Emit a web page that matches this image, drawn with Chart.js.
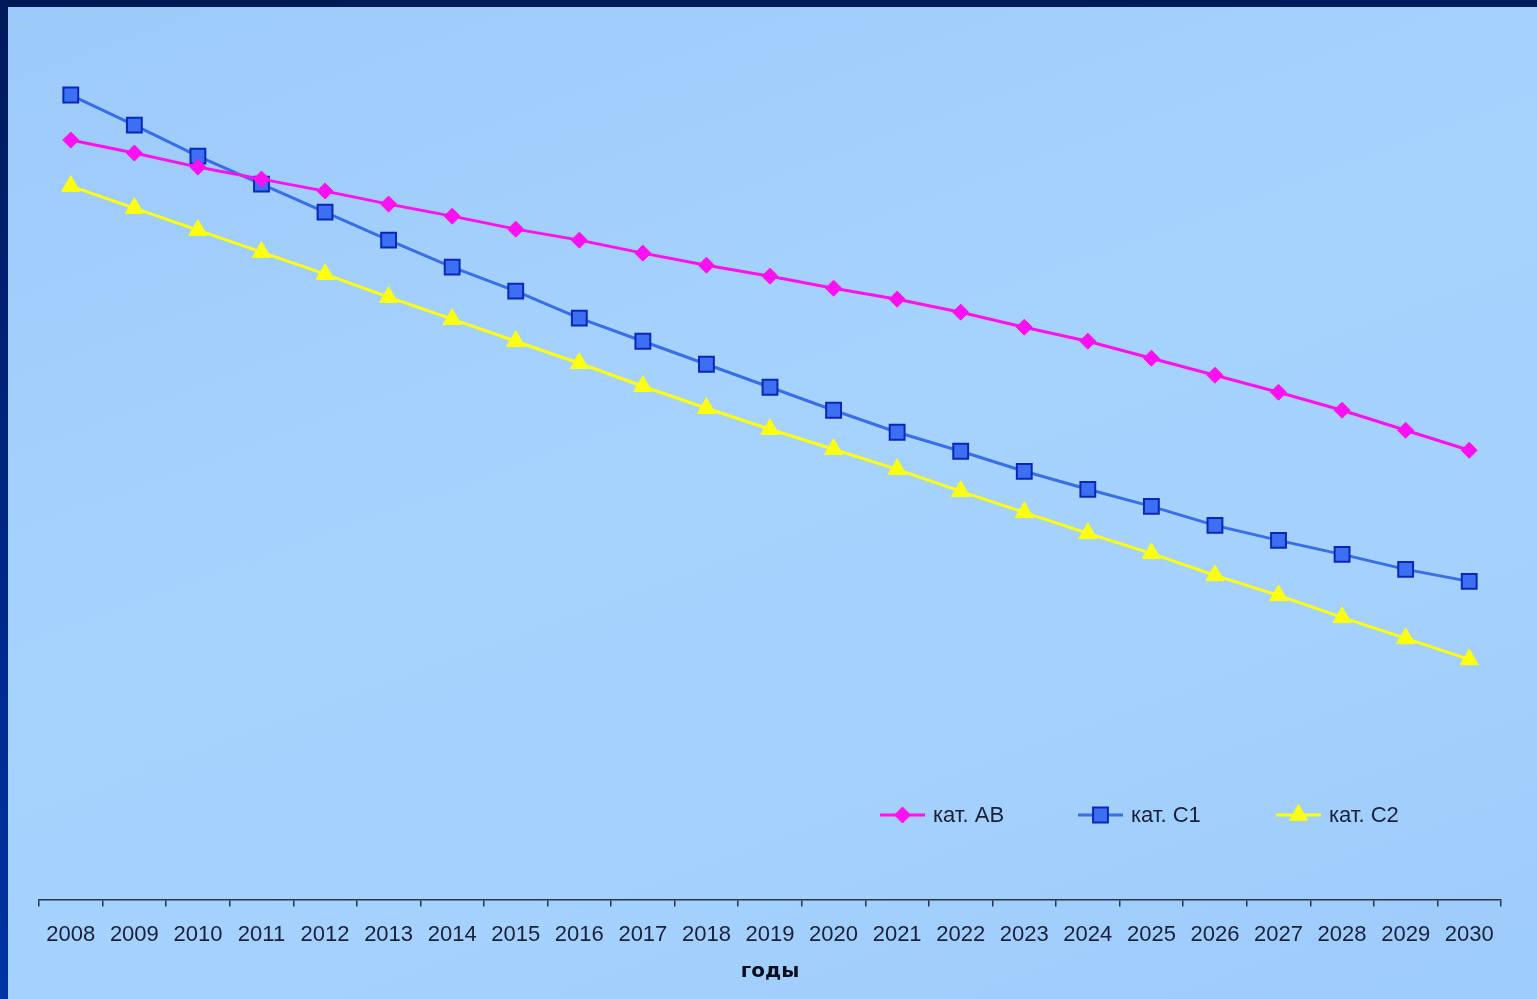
<!DOCTYPE html>
<html lang="ru">
<head>
<meta charset="utf-8">
<title>Прогноз по категориям</title>
<script src="https://cdn.jsdelivr.net/npm/chart.js@4/dist/chart.umd.min.js"></script>
<style>
  html, body { margin: 0; padding: 0; }
  body {
    width: 1537px; height: 999px; overflow: hidden; position: relative;
    background: linear-gradient(to bottom, #001a58 0%, #00288a 60%, #0034a4 100%);
  }
  .frame {
    position: absolute; left: 8px; top: 7px; width: 1529px; height: 992px;
    background: linear-gradient(160deg, #9ccafa 0%, #a6d3fe 45%, #a4d1fd 70%, #9dcbfa 100%);
  }
</style>
</head>
<body>
<div class="frame"><canvas id="prognoz"></canvas></div>
<script>
// Годы прогноза
const years = ['2008','2009','2010','2011','2012','2013','2014','2015','2016','2017','2018','2019',
               '2020','2021','2022','2023','2024','2025','2026','2027','2028','2029','2030'];

// Запасы по категориям (условные единицы)
const katAB = [759, 746, 732, 720, 708, 695, 683, 670, 659, 646, 634, 623, 611, 600, 587, 572, 558, 541, 524, 507, 489, 469, 449];
const katC1 = [804, 774, 743, 715, 687, 659, 632, 608, 581, 558, 535, 512, 489, 467, 448, 428, 410, 393, 374, 359, 345, 330, 318];
const katC2 = [713, 691, 669, 647, 625, 602, 580, 558, 536, 513, 491, 470, 450, 430, 408, 387, 366, 346, 324, 304, 282, 261, 240];

const seriesNames = ['кат. АВ', 'кат. С1', 'кат. С2'];

// Легенда внутри области графика, справа внизу
const legendInside = {
  id: 'legendInside',
  afterDraw(chart) {
    const ctx = chart.ctx;
    const startX = 872, stepX = 198, y = 808;
    chart.data.datasets.forEach((ds, i) => {
      const x = startX + i * stepX;
      ctx.save();
      ctx.strokeStyle = ds.borderColor;
      ctx.lineWidth = 3;
      ctx.beginPath();
      ctx.moveTo(x, y);
      ctx.lineTo(x + 45, y);
      ctx.stroke();
      ctx.fillStyle = ds.pointBackgroundColor;
      ctx.strokeStyle = ds.pointBorderColor;
      ctx.lineWidth = ds.pointBorderWidth;
      Chart.helpers.drawPoint(ctx, {
        pointStyle: ds.pointStyle,
        radius: ds.pointRadius,
        borderWidth: ds.pointBorderWidth
      }, x + 22.5, y);
      ctx.fillStyle = '#1a1f3a';
      ctx.font = '22px "Liberation Sans", Arial, sans-serif';
      ctx.textBaseline = 'middle';
      ctx.fillText(ds.label, x + 53, y + 1);
      ctx.restore();
    });
  }
};

const ctx = document.getElementById('prognoz').getContext('2d');
new Chart(ctx, {
  type: 'line',
  data: {
    labels: years,
    datasets: [{
      label: seriesNames[0],
      data: katAB,
      borderColor: '#ff10f0',
      borderWidth: 3,
      pointStyle: 'rectRot',
      pointRadius: 8,
      pointBackgroundColor: '#ff10f0',
      pointBorderColor: '#ff10f0',
      pointBorderWidth: 1,
      tension: 0
    }, {
      label: seriesNames[1],
      data: katC1,
      borderColor: '#3a6ee8',
      borderWidth: 3,
      pointStyle: 'rect',
      pointRadius: 10.5,
      pointBackgroundColor: '#3d6ff2',
      pointBorderColor: '#0a28b8',
      pointBorderWidth: 2,
      tension: 0
    }, {
      label: seriesNames[2],
      data: katC2,
      borderColor: '#ffff10',
      borderWidth: 3,
      pointStyle: 'triangle',
      pointRadius: 10.5,
      pointBackgroundColor: '#ffff10',
      pointBorderColor: '#ffff10',
      pointBorderWidth: 1,
      tension: 0
    }]
  },
  options: {
    responsive: true,
    maintainAspectRatio: false,
    animation: false,
    layout: { padding: { left: 31, right: 36, top: 22, bottom: 10 } },
    plugins: {
      legend: { display: false },
      tooltip: { enabled: false }
    },
    scales: {
      x: {
        offset: true,
        grid: {
          offset: true,
          drawOnChartArea: false,
          drawTicks: true,
          tickLength: 7,
          color: '#2a3448',
          lineWidth: 1.5
        },
        border: { display: true, color: '#2a3448', width: 1.5 },
        ticks: {
          color: '#1a1f3a',
          padding: 15,
          maxRotation: 0,
          autoSkip: false,
          font: { family: '"Liberation Sans", Arial, sans-serif', size: 22 }
        },
        title: {
          display: true,
          text: 'годы',
          color: '#0a0d1c',
          padding: { top: -3, bottom: 5 },
          font: { family: '"DejaVu Sans", Verdana, sans-serif', size: 20, weight: 'bold' }
        }
      },
      y: {
        display: false,
        min: 0,
        max: 870
      }
    }
  },
  plugins: [legendInside]
});
</script>
</body>
</html>
